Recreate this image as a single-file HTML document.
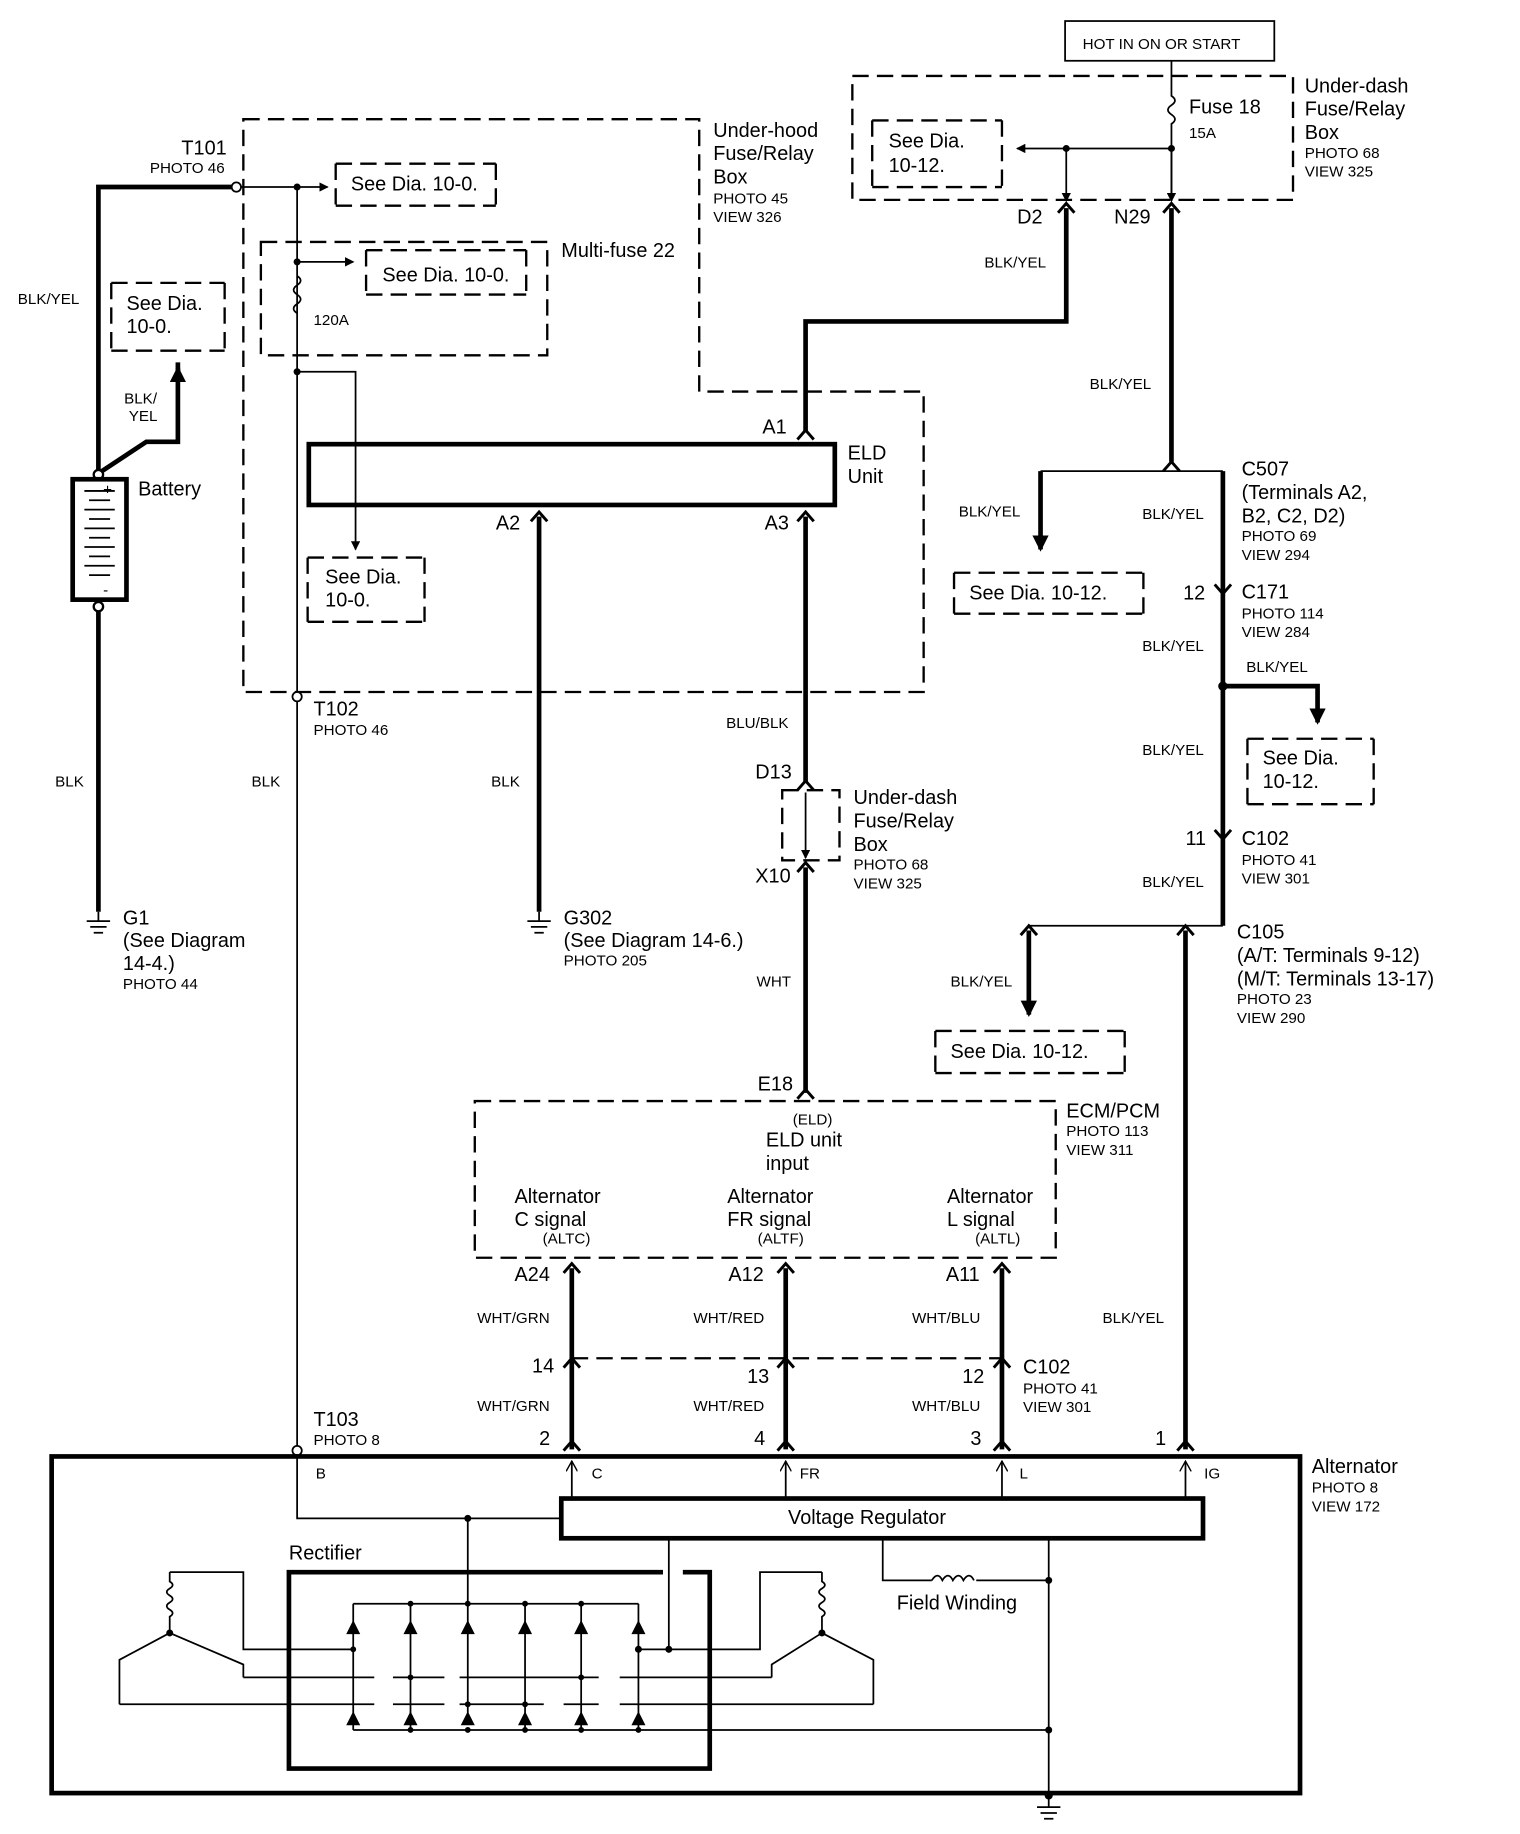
<!DOCTYPE html>
<html><head><meta charset="utf-8"><style>
html,body{margin:0;padding:0;background:#fff}
svg{display:block}
text{font-family:"Liberation Sans",sans-serif;fill:#000}
.t{font-size:17px}.s{font-size:13px}
.th{stroke:#000;stroke-width:4;fill:none}
.tn{stroke:#000;stroke-width:1.5;fill:none}
.d{stroke:#000;stroke-width:2;fill:none;stroke-dasharray:14,7}
.c{stroke:#000;stroke-width:2.5;fill:none}
</style></head><body>
<svg width="1520" height="1834" viewBox="0 0 1300 1569" xmlns="http://www.w3.org/2000/svg">
<defs>
<marker id="a" markerWidth="8" markerHeight="8" refX="7" refY="4" orient="auto" markerUnits="userSpaceOnUse"><path d="M0,0 L8,4 L0,8 z"/></marker>
<marker id="o" markerWidth="10" markerHeight="10" refX="9" refY="5" orient="auto" markerUnits="userSpaceOnUse"><path d="M0,0 L9,5 L0,10" fill="none" stroke="#000" stroke-width="1.2"/></marker>
<marker id="A" markerWidth="14" markerHeight="14" refX="12" refY="7" orient="auto" markerUnits="userSpaceOnUse"><path d="M0,0 L14,7 L0,14 z"/></marker>
</defs>
<!-- top box -->
<rect x="911" y="18" width="179" height="34" class="tn" stroke-width="2"/>
<text x="926" y="42" class="s" font-size="14">HOT IN ON OR START</text>
<rect x="729" y="65" width="377" height="106" class="d"/>
<text x="1116" y="79" class="t">Under-dash</text><text x="1116" y="99" class="t">Fuse/Relay</text><text x="1116" y="119" class="t">Box</text>
<text x="1116" y="135" class="s">PHOTO 68</text><text x="1116" y="151" class="s">VIEW 325</text>
<path d="M1002,52 V82 q6,4 0,8 q-6,4 0,8 q6,4 0,8 V172" class="tn"/>
<text x="1017" y="97" class="t">Fuse 18</text><text x="1017" y="118" class="s">15A</text>
<circle cx="1002" cy="127" r="3"/><circle cx="912" cy="127" r="3"/>
<path d="M1002,127 H870" class="tn" marker-end="url(#a)"/>
<path d="M912,127 V172" class="tn" marker-end="url(#a)"/>
<path d="M1002,127 V172" class="tn" marker-end="url(#a)"/>
<path d="M746,103 V160 M746,103 H857 M746,160 H857 M857,103 V160" class="d"/>
<text x="760" y="126" class="t">See Dia.</text><text x="760" y="147" class="t">10-12.</text>
<text x="870" y="191" class="t">D2</text><text x="953" y="191" class="t">N29</text>
<path d="M905,182 L912,174 L919,182 M995,182 L1002,174 L1009,182" class="c"/>
<path d="M912,178 V275 H689 V370" class="th"/>
<text x="842" y="229" class="s">BLK/YEL</text>
<path d="M1002,178 V395" class="th"/>
<text x="932" y="333" class="s">BLK/YEL</text>
<!-- under hood box -->
<path d="M208,102 H598 V335 H790 V592 H208 Z" class="d"/>
<text x="610" y="117" class="t">Under-hood</text><text x="610" y="137" class="t">Fuse/Relay</text><text x="610" y="157" class="t">Box</text>
<text x="610" y="174" class="s">PHOTO 45</text><text x="610" y="190" class="s">VIEW 326</text>
<text x="155" y="132" class="t">T101</text><text x="128" y="148" class="s">PHOTO 46</text>
<path d="M84,405 V160 H198" class="th"/>
<circle cx="202" cy="160" r="4" fill="#fff" stroke="#000" stroke-width="1.5"/>
<path d="M206,160 H280" class="tn" marker-end="url(#a)"/>
<circle cx="254" cy="160" r="3"/>
<path d="M287,140 H424 M287,176 H424 M287,140 V176 M424,140 V176" class="d"/>
<text x="300" y="163" class="t">See Dia. 10-0.</text>
<path d="M254,160 V1238" class="tn"/>
<rect x="223" y="207" width="245" height="97" class="d"/>
<text x="480" y="220" class="t">Multi-fuse 22</text>
<circle cx="254" cy="224" r="3"/>
<path d="M254,224 H302" class="tn" marker-end="url(#a)"/>
<path d="M254,236 q6,4 0,8 q-6,4 0,8 q6,4 0,8 q-6,4 0,8" class="tn" stroke-width="2"/>
<text x="268" y="278" class="s">120A</text>
<path d="M313,214 H450 M313,252 H450 M313,214 V252 M450,214 V252" class="d"/>
<text x="327" y="241" class="t">See Dia. 10-0.</text>
<circle cx="254" cy="318" r="3"/>
<path d="M254,318 H304 V470" class="tn" marker-end="url(#a)"/>
<path d="M263,477 H363 M263,532 H363 M263,477 V532 M363,477 V532" class="d"/>
<text x="278" y="499" class="t">See Dia.</text><text x="278" y="519" class="t">10-0.</text>
<!-- battery -->
<text x="15" y="260" class="s">BLK/YEL</text>
<path d="M95,242 H192 M95,300 H192 M95,242 V300 M192,242 V300" class="d"/>
<text x="108" y="265" class="t">See Dia.</text><text x="108" y="285" class="t">10-0.</text>
<text x="106" y="345" class="s">BLK/</text><text x="110" y="360" class="s">YEL</text>
<path d="M84,405 L125,378 H152 V315" class="th" marker-end="url(#A)"/>
<path d="M152,320 V310" class="th"/>
<circle cx="84" cy="406" r="4" fill="#fff" stroke="#000" stroke-width="2"/>
<rect x="62" y="410" width="46" height="103" class="th" stroke-width="3"/>
<path d="M72,420 H98 M76,428 H94 M72,436 H98 M76,444 H94 M72,452 H98 M76,460 H94 M72,468 H98 M76,476 H94 M72,484 H98 M76,492 H94" class="tn"/>
<text x="88" y="423" class="s" font-size="11">+</text><text x="88" y="509" class="s" font-size="11">-</text>
<text x="118" y="424" class="t">Battery</text>
<circle cx="84" cy="519" r="4" fill="#fff" stroke="#000" stroke-width="2"/>
<path d="M84,523 V780" class="th"/>
<text x="47" y="673" class="s">BLK</text>
<path d="M84,780 V788 M74,788 H94 M77,793 H91 M80,798 H88" class="tn" stroke-width="2"/>
<text x="105" y="791" class="t">G1</text><text x="105" y="810" class="t">(See Diagram</text><text x="105" y="830" class="t">14-4.)</text><text x="105" y="846" class="s">PHOTO 44</text>
<circle cx="254" cy="596" r="4" fill="#fff" stroke="#000" stroke-width="1.5"/>
<text x="268" y="612" class="t">T102</text><text x="268" y="629" class="s">PHOTO 46</text>
<text x="215" y="673" class="s">BLK</text>
<!-- ELD -->
<rect x="264" y="380" width="450" height="52" class="th" stroke-width="3"/>
<text x="725" y="393" class="t">ELD</text><text x="725" y="413" class="t">Unit</text>
<text x="652" y="371" class="t">A1</text>
<path d="M682,376 L689,368 L696,376" class="c"/>
<text x="424" y="453" class="t">A2</text><text x="654" y="453" class="t">A3</text>
<path d="M454,446 L461,438 L468,446 M682,446 L689,438 L696,446" class="c"/>
<path d="M461,442 V780" class="th"/>
<text x="420" y="673" class="s">BLK</text>
<path d="M461,780 V788 M451,788 H471 M454,793 H468 M457,798 H465" class="tn" stroke-width="2"/>
<text x="482" y="791" class="t">G302</text><text x="482" y="810" class="t">(See Diagram 14-6.)</text><text x="482" y="826" class="s">PHOTO 205</text>
<path d="M689,442 V670" class="th"/>
<text x="621" y="623" class="s">BLU/BLK</text>
<text x="646" y="666" class="t">D13</text><text x="646" y="755" class="t">X10</text>
<path d="M682,676 L689,668 L696,676" class="c"/>
<rect x="669" y="676" width="49" height="60" class="d"/>
<path d="M689,678 V734" class="tn" marker-end="url(#a)"/>
<path d="M682,746 L689,738 L696,746" class="c"/>
<text x="730" y="688" class="t">Under-dash</text><text x="730" y="708" class="t">Fuse/Relay</text><text x="730" y="728" class="t">Box</text>
<text x="730" y="744" class="s">PHOTO 68</text><text x="730" y="760" class="s">VIEW 325</text>
<path d="M689,742 V935" class="th"/>
<text x="647" y="844" class="s">WHT</text>
<text x="648" y="933" class="t">E18</text>
<path d="M682,940 L689,932 L696,940" class="c"/>
<!-- ECM -->
<rect x="406" y="942" width="497" height="134" class="d"/>
<text x="912" y="956" class="t">ECM/PCM</text><text x="912" y="972" class="s">PHOTO 113</text><text x="912" y="988" class="s">VIEW 311</text>
<text x="678" y="962" class="s">(ELD)</text>
<text x="655" y="981" class="t">ELD unit</text><text x="655" y="1001" class="t">input</text>
<text x="440" y="1029" class="t">Alternator</text><text x="440" y="1049" class="t">C signal</text><text x="464" y="1064" class="s">(ALTC)</text>
<text x="622" y="1029" class="t">Alternator</text><text x="622" y="1049" class="t">FR signal</text><text x="648" y="1064" class="s">(ALTF)</text>
<text x="810" y="1029" class="t">Alternator</text><text x="810" y="1049" class="t">L signal</text><text x="834" y="1064" class="s">(ALTL)</text>
<text x="440" y="1096" class="t">A24</text><text x="623" y="1096" class="t">A12</text><text x="809" y="1096" class="t">A11</text>
<path d="M482,1089 L489,1081 L496,1089 M665,1089 L672,1081 L679,1089 M850,1089 L857,1081 L864,1089" class="c"/>
<path d="M489,1085 V1240 M672,1085 V1240 M857,1085 V1240" class="th"/>
<path d="M489,1162 H857" class="d" stroke-width="1.5" stroke-dasharray="9,5"/>
<path d="M482,1170 L489,1162 L496,1170 M665,1170 L672,1162 L679,1170 M850,1170 L857,1162 L864,1170" class="c"/>
<path d="M482,1241 L489,1233 L496,1241 M665,1241 L672,1233 L679,1241 M850,1241 L857,1233 L864,1241 M1007,1241 L1014,1233 L1021,1241" class="c"/>
<text x="408" y="1132" class="s">WHT/GRN</text><text x="593" y="1132" class="s">WHT/RED</text><text x="780" y="1132" class="s">WHT/BLU</text><text x="943" y="1132" class="s">BLK/YEL</text>
<text x="455" y="1174" class="t">14</text><text x="639" y="1183" class="t">13</text><text x="823" y="1183" class="t">12</text>
<text x="875" y="1175" class="t">C102</text><text x="875" y="1192" class="s">PHOTO 41</text><text x="875" y="1208" class="s">VIEW 301</text>
<text x="408" y="1207" class="s">WHT/GRN</text><text x="593" y="1207" class="s">WHT/RED</text><text x="780" y="1207" class="s">WHT/BLU</text>
<text x="461" y="1236" class="t">2</text><text x="645" y="1236" class="t">4</text><text x="830" y="1236" class="t">3</text><text x="988" y="1236" class="t">1</text>
<text x="268" y="1220" class="t">T103</text><text x="268" y="1236" class="s">PHOTO 8</text>
<circle cx="254" cy="1241" r="4" fill="#fff" stroke="#000" stroke-width="1.5"/>
<!-- right side -->
<path d="M995,403 L1002,395 L1009,403" class="c"/>
<path d="M890,403 H1046" class="tn"/>
<path d="M890,403 V470" class="th" marker-end="url(#A)"/>
<path d="M1046,403 V792 M1014,796 V1240" class="th"/>
<text x="1062" y="407" class="t">C507</text><text x="1062" y="427" class="t">(Terminals A2,</text><text x="1062" y="447" class="t">B2, C2, D2)</text>
<text x="1062" y="463" class="s">PHOTO 69</text><text x="1062" y="479" class="s">VIEW 294</text>
<text x="820" y="442" class="s">BLK/YEL</text><text x="977" y="444" class="s">BLK/YEL</text>
<path d="M816,490 H978 M816,525 H978 M816,490 V525 M978,490 V525" class="d"/>
<text x="829" y="513" class="t">See Dia. 10-12.</text>
<path d="M1039,500 L1046,508 L1053,500" class="c"/>
<text x="1012" y="513" class="t">12</text>
<text x="1062" y="512" class="t">C171</text><text x="1062" y="529" class="s">PHOTO 114</text><text x="1062" y="545" class="s">VIEW 284</text>
<text x="977" y="557" class="s">BLK/YEL</text><text x="1066" y="575" class="s">BLK/YEL</text>
<circle cx="1046" cy="587" r="4"/>
<path d="M1046,587 H1127 V618" class="th" marker-end="url(#A)"/>
<path d="M1067,632 H1175 M1067,688 H1175 M1067,632 V688 M1175,632 V688" class="d"/>
<text x="1080" y="654" class="t">See Dia.</text><text x="1080" y="674" class="t">10-12.</text>
<text x="977" y="646" class="s">BLK/YEL</text>
<path d="M1039,710 L1046,718 L1053,710" class="c"/>
<text x="1014" y="723" class="t">11</text>
<text x="1062" y="723" class="t">C102</text><text x="1062" y="740" class="s">PHOTO 41</text><text x="1062" y="756" class="s">VIEW 301</text>
<text x="977" y="759" class="s">BLK/YEL</text>
<path d="M880,792 H1046" class="tn"/>
<path d="M873,800 L880,792 L887,800 M1007,800 L1014,792 L1021,800" class="c"/>
<path d="M880,796 V868" class="th" marker-end="url(#A)"/>
<text x="1058" y="803" class="t">C105</text><text x="1058" y="823" class="t">(A/T: Terminals 9-12)</text><text x="1058" y="843" class="t">(M/T: Terminals 13-17)</text>
<text x="1058" y="859" class="s">PHOTO 23</text><text x="1058" y="875" class="s">VIEW 290</text>
<text x="813" y="844" class="s">BLK/YEL</text>
<path d="M800,882 H962 M800,918 H962 M800,882 V918 M962,882 V918" class="d"/>
<text x="813" y="905" class="t">See Dia. 10-12.</text>
<!-- alternator -->
<rect x="44" y="1246" width="1068" height="288" class="th"/>
<text x="1122" y="1260" class="t">Alternator</text><text x="1122" y="1277" class="s">PHOTO 8</text><text x="1122" y="1293" class="s">VIEW 172</text>
<text x="270" y="1265" class="s">B</text><text x="506" y="1265" class="s">C</text><text x="684" y="1265" class="s">FR</text><text x="872" y="1265" class="s">L</text><text x="1030" y="1265" class="s">IG</text>
<path d="M489,1282 V1250" class="tn" marker-end="url(#o)"/>
<path d="M672,1282 V1250" class="tn" marker-end="url(#o)"/>
<path d="M857,1282 V1250" class="tn" marker-end="url(#o)"/>
<path d="M1014,1282 V1250" class="tn" marker-end="url(#o)"/>
<rect x="480" y="1282" width="549" height="34" class="th" stroke-width="3"/>
<text x="674" y="1304" class="t">Voltage Regulator</text>
<path d="M254,1244 V1299 H480" class="tn"/>
<circle cx="400" cy="1299" r="3"/>
<path d="M400,1299 V1472" class="tn"/>
<path d="M572,1316 V1411 M755,1316 V1352 H797 M835,1352 H897 M897,1316 V1534" class="tn"/>
<path d="M797,1352 q5,-8 9,0 q5,-8 9,0 q5,-8 9,0 q5,-8 9,0" class="tn" stroke-width="2"/>
<circle cx="897" cy="1352" r="3"/><circle cx="897" cy="1480" r="3"/>
<text x="767" y="1377" class="t">Field Winding</text>
<text x="247" y="1334" class="t">Rectifier</text>
<path d="M567,1345 H247 V1513 H607 V1345 H584" class="th" stroke-width="3"/>
<path d="M302,1372 H546 M302,1480 H897" class="tn" stroke-width="2"/>
<g class="tn">
<path d="M302,1372 V1480 M351,1372 V1480 M449,1372 V1480 M497,1372 V1480 M546,1372 V1480"/>
</g>
<g fill="#000">
<path d="M296,1398 L308,1398 L302,1386 Z M345,1398 L357,1398 L351,1386 Z M394,1398 L406,1398 L400,1386 Z M443,1398 L455,1398 L449,1386 Z M491,1398 L503,1398 L497,1386 Z M540,1398 L552,1398 L546,1386 Z"/>
<path d="M296,1476 L308,1476 L302,1464 Z M345,1476 L357,1476 L351,1464 Z M394,1476 L406,1476 L400,1464 Z M443,1476 L455,1476 L449,1464 Z M491,1476 L503,1476 L497,1464 Z M540,1476 L552,1476 L546,1464 Z"/>
<circle cx="351" cy="1372" r="2.5"/><circle cx="400" cy="1372" r="2.5"/><circle cx="449" cy="1372" r="2.5"/><circle cx="497" cy="1372" r="2.5"/>
<circle cx="351" cy="1480" r="2.5"/><circle cx="400" cy="1480" r="2.5"/><circle cx="449" cy="1480" r="2.5"/><circle cx="497" cy="1480" r="2.5"/><circle cx="546" cy="1480" r="2.5"/>
<circle cx="302" cy="1411" r="2.5"/><circle cx="546" cy="1411" r="3"/><circle cx="572" cy="1411" r="3"/>
<circle cx="351" cy="1435" r="2.5"/><circle cx="497" cy="1435" r="2.5"/>
<circle cx="400" cy="1458" r="2.5"/><circle cx="449" cy="1458" r="2.5"/>
<circle cx="145" cy="1397" r="3"/><circle cx="703" cy="1397" r="3"/>
</g>
<g class="tn" stroke-width="2">
<path d="M145,1345 H208 V1411 H302"/>
<path d="M208,1435 H320 M336,1435 H351 M351,1435 H380 M393,1435 H497 M497,1435 H512 M530,1435 H660"/>
<path d="M102,1458 H320 M336,1458 H380 M393,1458 H449 M449,1458 H465 M482,1458 H512 M530,1458 H747"/>
<path d="M546,1411 H650 V1345 H703"/>
<path d="M145,1345 v8 q5,3 0,6 q-5,3 0,6 q5,3 0,6 q-5,3 0,6 q5,3 0,6 V1397 L102,1420 V1458 M145,1397 L208,1424 V1435"/>
<path d="M703,1345 v8 q5,3 0,6 q-5,3 0,6 q5,3 0,6 q-5,3 0,6 q5,3 0,6 V1397 L660,1424 V1435 M703,1397 L747,1420 V1458"/>
</g>
<path d="M897,1534 V1546 M887,1546 H907 M890,1551 H904 M893,1556 H901" class="tn" stroke-width="2.5"/>
<circle cx="897" cy="1536" r="3.5"/>
</svg>
</body></html>
